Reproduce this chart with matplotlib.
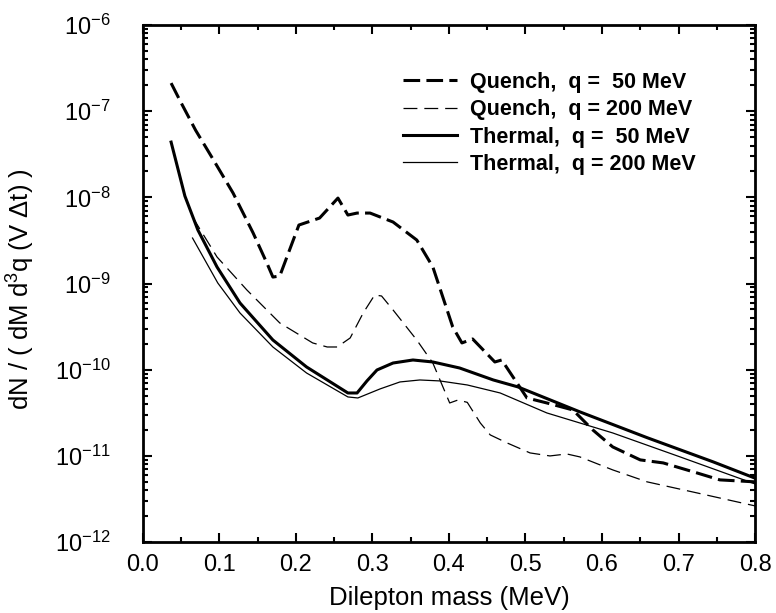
import matplotlib
matplotlib.use("Agg")
import matplotlib.pyplot as plt
import numpy as np
from matplotlib.ticker import LogLocator, MultipleLocator, NullFormatter

plt.rcParams['font.family'] = ['Liberation Sans', 'DejaVu Sans']
plt.rcParams['mathtext.fontset'] = 'custom'
plt.rcParams['mathtext.rm'] = 'Liberation Sans'
plt.rcParams['mathtext.it'] = 'Liberation Sans:italic'
plt.rcParams['lines.scale_dashes'] = False

# Quench, q = 50 MeV (thick dashed), log10 of the yield
m_q50 = [0.037, 0.050, 0.069, 0.092, 0.118, 0.144, 0.162, 0.170, 0.179, 0.204, 0.231,
         0.255, 0.268, 0.280, 0.297, 0.327, 0.358, 0.379, 0.405, 0.417, 0.431, 0.460,
         0.469, 0.502, 0.528, 0.562, 0.588, 0.614, 0.650, 0.680, 0.724, 0.754, 0.800]
lg_q50 = [-6.673, -6.90, -7.22, -7.56, -7.95, -8.41, -8.76, -8.925, -8.913, -8.321, -8.240,
          -8.008, -8.205, -8.182, -8.182, -8.286, -8.495, -8.808, -9.505, -9.690, -9.644, -9.911,
          -9.888, -10.329, -10.387, -10.468, -10.700, -10.897, -11.048, -11.083, -11.199, -11.280, -11.303]

# Quench, q = 200 MeV (thin dashed)
m_q200 = [0.065, 0.097, 0.136, 0.179, 0.222, 0.241, 0.254, 0.271, 0.288, 0.303, 0.312,
          0.327, 0.358, 0.379, 0.401, 0.412, 0.424, 0.441, 0.454, 0.476, 0.506, 0.532,
          0.554, 0.571, 0.614, 0.659, 0.724, 0.800]
lg_q200 = [-8.228, -8.692, -9.075, -9.458, -9.690, -9.737, -9.737, -9.632, -9.342, -9.133, -9.145,
           -9.307, -9.656, -9.923, -10.387, -10.352, -10.38, -10.619, -10.758, -10.851, -10.967, -11.002,
           -10.979, -11.013, -11.164, -11.303, -11.431, -11.582]

# Thermal, q = 50 MeV (thick solid)
m_t50 = [0.037, 0.055, 0.072, 0.097, 0.127, 0.170, 0.214, 0.268, 0.280, 0.293, 0.306, 0.327,
         0.353, 0.379, 0.414, 0.458, 0.490, 0.571, 0.659, 0.745, 0.800]
lg_t50 = [-7.358, -7.984, -8.379, -8.808, -9.226, -9.656, -9.969, -10.271, -10.271, -10.13, -10.004, -9.923,
          -9.888, -9.911, -9.981, -10.120, -10.200, -10.49, -10.79, -11.07, -11.26]

# Thermal, q = 200 MeV (thin solid)
m_t200 = [0.065, 0.098, 0.127, 0.170, 0.214, 0.268, 0.281, 0.310, 0.336, 0.362, 0.388,
          0.424, 0.467, 0.528, 0.614, 0.702, 0.800]
lg_t200 = [-8.472, -8.994, -9.342, -9.737, -10.039, -10.317, -10.329, -10.224, -10.143, -10.12, -10.131,
           -10.178, -10.271, -10.503, -10.735, -11.013, -11.327]

labels = ['Quench,  q =  50 MeV', 'Quench,  q = 200 MeV',
          'Thermal,  q =  50 MeV', 'Thermal,  q = 200 MeV']

fig = plt.figure(figsize=(7.76, 6.13), dpi=100)
ax = fig.add_axes([0.184, 0.116, 0.789, 0.843])

ax.plot(m_q50, 10 ** np.array(lg_q50), color='black', lw=2.2, dashes=(12, 4.5), label=labels[0])
ax.plot(m_q200, 10 ** np.array(lg_q200), color='black', lw=0.9, dashes=(10, 5), label=labels[1])
ax.plot(m_t50, 10 ** np.array(lg_t50), color='black', lw=2.2, label=labels[2])
ax.plot(m_t200, 10 ** np.array(lg_t200), color='black', lw=0.9, label=labels[3])

ax.set_yscale('log')
ax.set_xlim(0.0, 0.8)
ax.set_ylim(1e-12, 1e-6)
ax.xaxis.set_major_locator(MultipleLocator(0.1))
ax.xaxis.set_minor_locator(MultipleLocator(0.05))
ax.yaxis.set_minor_locator(LogLocator(base=10, subs=np.arange(2, 10), numticks=20))
ax.yaxis.set_minor_formatter(NullFormatter())
ax.set_yticks([10.0 ** k for k in range(-12, -5)])
ax.set_yticklabels([r'$10^{%d}$' % k for k in range(-12, -5)])

ax.tick_params(which='both', direction='in', top=True, right=True, width=1.5)
ax.tick_params(which='major', length=6.5, labelsize=17)
ax.tick_params(axis='x', which='major', pad=9)
ax.tick_params(axis='y', which='major', pad=23)
ax.tick_params(which='minor', length=3.5)
for s in ax.spines.values():
    s.set_linewidth(2)

ax.set_xlabel('Dilepton mass (MeV)', fontsize=18.5)
ax.set_ylabel(r'dN / ( dM d$^3$q (V $\Delta$t) )', fontsize=18.5)
ax.xaxis.set_label_coords(0.5, -0.085)
ax.yaxis.set_label_coords(-0.172, 0.49)

leg = ax.legend(loc='upper left', bbox_to_anchor=(0.425, 0.91), frameon=False,
                prop={'weight': 'bold', 'size': 15.5}, handlelength=2.5,
                handletextpad=0.6, labelspacing=0.3, borderpad=0, borderaxespad=0)

fig.savefig('out.png', dpi=100)
